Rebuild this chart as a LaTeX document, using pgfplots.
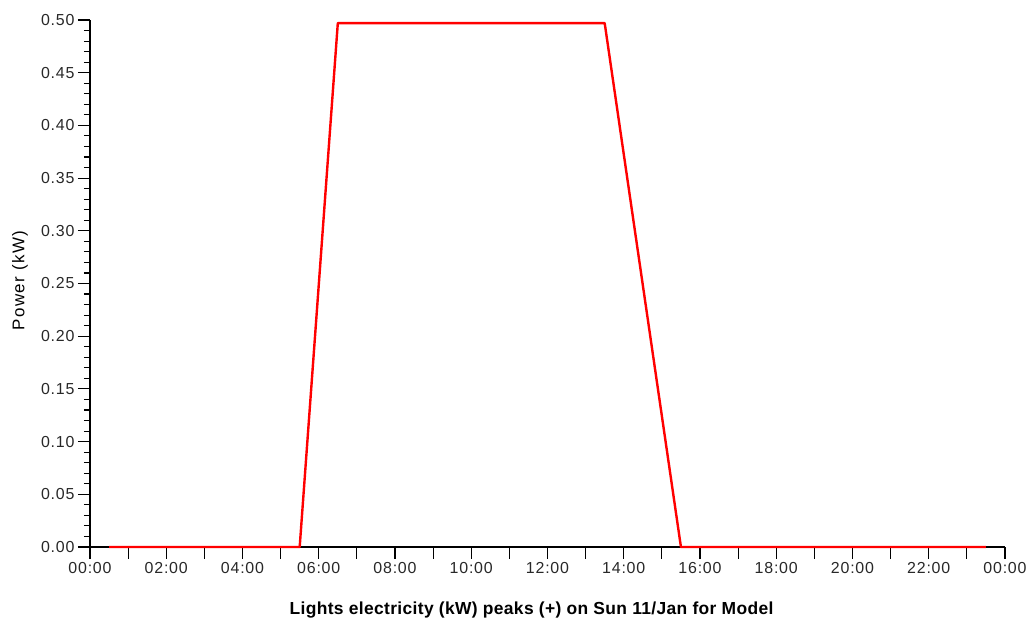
\documentclass[border=0pt]{standalone}
\usepackage{pgfplots}
\pgfplotsset{compat=1.18}
\usepackage{fontspec}
\setmainfont{Liberation Sans}
\newfontfamily\tickfont[LetterSpace=5]{Liberation Sans}
\newfontfamily\ylabfont[LetterSpace=8]{Liberation Sans}
\newfontfamily\xlabfont[LetterSpace=2]{Liberation Sans}
\definecolor{tickgray}{RGB}{40,40,40}
\begin{document}
\begin{tikzpicture}
\begin{axis}[
  scale only axis, width=915bp, height=527bp,
  xmin=0, xmax=24, ymin=0, ymax=0.5,
  axis lines*=left,
  axis line style={line width=1.3bp, -, black},
  xtick={0,1,...,24},
  xticklabels={00:00,,02:00,,04:00,,06:00,,08:00,,10:00,,12:00,,14:00,,16:00,,18:00,,20:00,,22:00,,00:00},
  ytick={0,0.05,0.10,0.15,0.20,0.25,0.30,0.35,0.40,0.45,0.50},
  minor y tick num=4,
  tick align=outside,
  major tick length=12bp, minor tick length=6bp,
  tick style={black, line width=1.1bp},
  /pgf/number format/.cd, fixed, fixed zerofill, precision=2, assume math mode=true,
  /pgfplots/.cd,
  tick label style={font=\tickfont\fontsize{16}{18}\selectfont, text=tickgray},
  xlabel={Lights electricity (kW) peaks (+) on Sun 11/Jan for Model},
  xlabel style={font=\xlabfont\bfseries\fontsize{17.5}{20}\selectfont, at={(axis description cs:0.5,0)}, anchor=base, yshift=-68bp, xshift=-16bp},
  ylabel={Power (kW)},
  ylabel style={font=\ylabfont\fontsize{17}{19}\selectfont, at={(axis description cs:0,0.5)}, anchor=center, yshift=70bp, xshift=3bp},
  clip=false,
]
\addplot[color={rgb,255:red,255;green,0;blue,0}, line width=2.4bp, line join=round] coordinates {
  (0.5,0) (5.5,0) (6.5,0.497) (13.5,0.497) (15.5,0) (23.5,0)
};
\end{axis}
\pgfresetboundingbox
\path[use as bounding box] ([xshift=-90bp,yshift=-75bp]current axis.south west) rectangle ([xshift=28bp,yshift=20bp]current axis.north east);
\end{tikzpicture}
\end{document}
